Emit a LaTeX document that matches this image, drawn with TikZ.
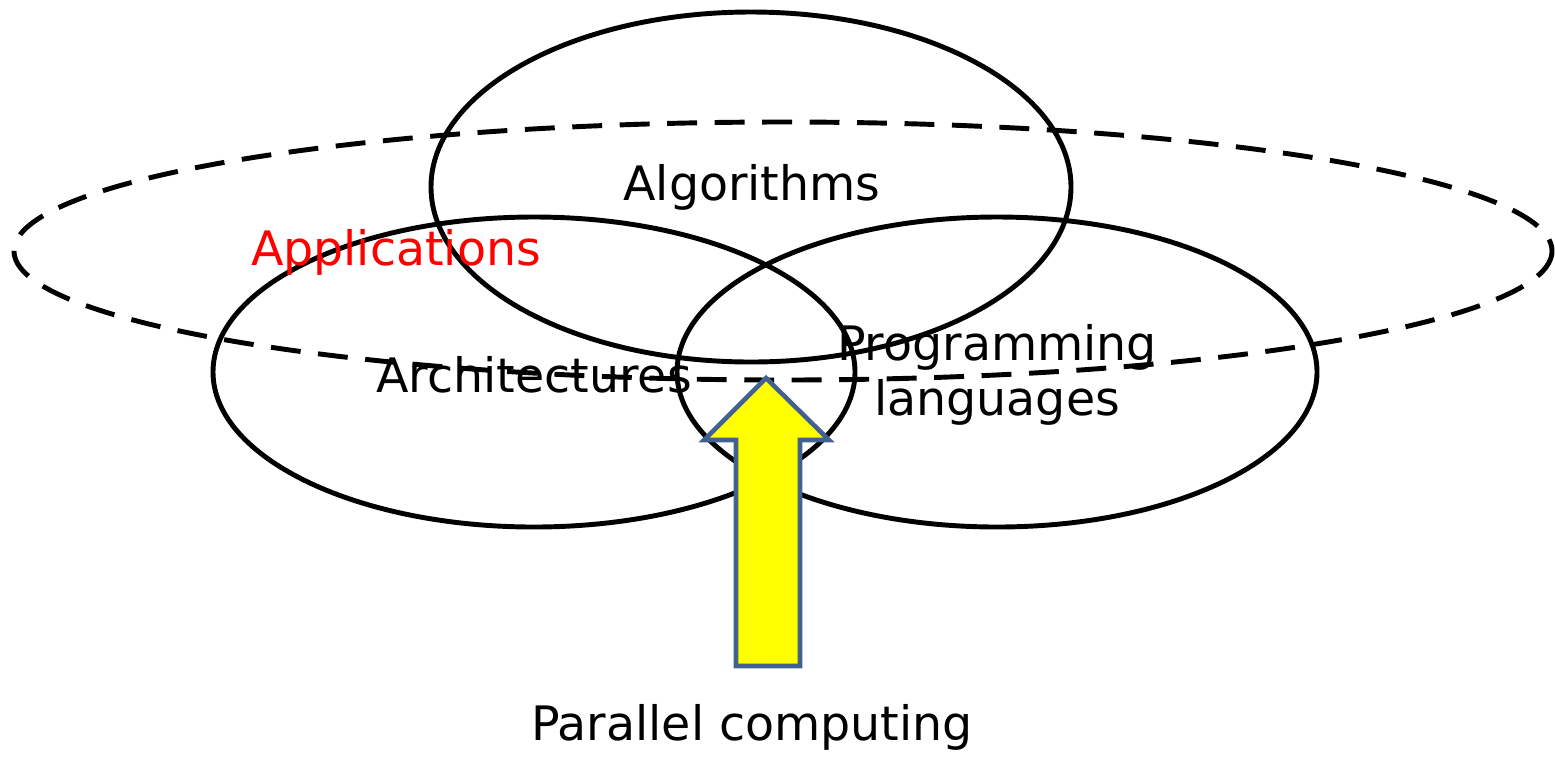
\documentclass[tikz,border=0pt]{standalone}
\usepackage{fontspec}
\setmainfont{DejaVu Sans}
\usetikzlibrary{positioning}

\definecolor{arrowedge}{HTML}{41628F}
\definecolor{arrowfill}{HTML}{FFFF00}
\tikzset{
    area/.style={line width=1.4pt},
    scope line/.style={line width=1.4pt, dash pattern=on 8.5pt off 5pt},
    word/.style={font=\fontsize{13.5}{15.6}\selectfont, inner sep=0pt, align=center},
}

\begin{document}
\begin{tikzpicture}[x=0.01cm, y=-0.01cm]
        \useasboundingbox (0,0) rectangle (1555,757);
        % the three fields and the application range
        \draw[area] (751,187) ellipse [x radius=320, y radius=175];
        \draw[area] (534,372) ellipse [x radius=321, y radius=155];
        \draw[area] (997,372) ellipse [x radius=320, y radius=155];
        \draw[scope line] (783,251) ellipse [x radius=769, y radius=129];

        \node[word] (alg) at (752,187) {Algorithms};
        \node[word, text=red] (app) at (396,252) {Applications};
        \node[word] (arch) at (534,375) {Architectures};
        \node[word] (lang) at (997,375) {Programming\\languages};
        \node[word] (par) at (752,727) {Parallel computing};

        % the big yellow arrow
        \draw[arrowedge, line width=1.3pt, fill=arrowfill, line join=miter]
                (766,378) -- (829,440) -- (800,440) -- (800,666)
                -- (736,666) -- (736,440) -- (704,440) -- cycle;
\end{tikzpicture}
\end{document}
